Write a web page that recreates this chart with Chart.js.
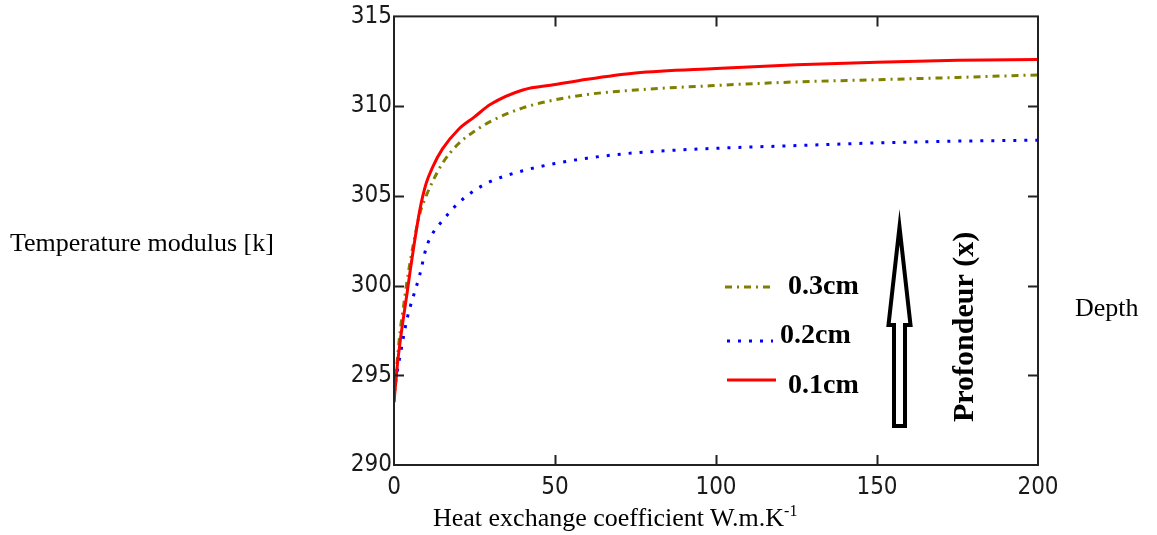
<!DOCTYPE html>
<html>
<head>
<meta charset="utf-8">
<script src="https://cdn.jsdelivr.net/npm/chart.js@4"></script>
<style>
  body { margin: 0; background: #fff; }
  #wrap { position: relative; width: 1157px; height: 535px; }
  .lbl { position: absolute; font: 26px/26px 'Liberation Serif', 'Times New Roman', serif; color: #000; white-space: nowrap; }
  .lbl sup { font-size: 16px; vertical-align: 10px; line-height: 0; }
</style>
</head>
<body>
<div id="wrap">
  <canvas id="chart"></canvas>
  <div class="lbl" style="left:10px; top:230px;">Temperature modulus [k]</div>
  <div class="lbl" style="left:433px; top:505px;">Heat exchange coefficient W.m.K<sup>-1</sup></div>
  <div class="lbl" style="left:1075px; top:295px;">Depth</div>
</div>
<script>
// heat exchange coefficient (x axis)
const hValues = [0, 1, 2, 3, 4, 5, 6, 8, 10, 12, 15, 20, 25, 30, 40, 50, 60, 75, 100, 125, 150, 175, 200];

// temperature modulus for each depth
const temp01 = [293.5, 295.5, 297.0, 298.3, 299.5, 300.8, 302.0, 304.2, 305.7, 306.6, 307.6, 308.7, 309.4, 310.1, 310.9, 311.2, 311.5, 311.85, 312.1, 312.3, 312.45, 312.55, 312.6];
const temp02 = [294.0, 295.2, 296.2, 297.2, 298.1, 298.8, 299.4, 300.6, 302.1, 302.9, 303.6, 304.6, 305.3, 305.8, 306.4, 306.8, 307.1, 307.4, 307.65, 307.8, 307.95, 308.05, 308.1];
const temp03 = [293.5, 295.8, 297.6, 298.9, 300.2, 301.3, 302.3, 304.0, 305.0, 305.8, 306.8, 307.9, 308.6, 309.15, 309.9, 310.35, 310.65, 310.9, 311.15, 311.35, 311.47, 311.6, 311.74];

const legendLabels = ['0.3cm', '0.2cm', '0.1cm'];
const xTicks = [0, 50, 100, 150, 200];
const yTicks = [290, 295, 300, 305, 310, 315];

const toPoints = (arr) => hValues.map((h, i) => ({ x: h, y: arr[i] }));

const tickFont = { family: "'DejaVu Sans Condensed', 'DejaVu Sans', sans-serif", size: 24 };

// frame, inward ticks, legend and arrow (Mathcad look)
const framePlugin = {
    id: 'frame',
    afterDraw(chart) {
        const { ctx, chartArea: a, scales } = chart;
        const xs = scales.x, ys = scales.y;
        ctx.save();
        ctx.strokeStyle = '#222';
        ctx.lineWidth = 2;
        ctx.strokeRect(a.left, a.top, a.right - a.left, a.bottom - a.top);

        const tl = 10;
        ctx.beginPath();
        xTicks.slice(1, -1).forEach(v => {
            const px = Math.round(xs.getPixelForValue(v)) + 0.5;
            ctx.moveTo(px, a.bottom); ctx.lineTo(px, a.bottom - tl);
            ctx.moveTo(px, a.top); ctx.lineTo(px, a.top + tl);
        });
        yTicks.slice(1, -1).forEach(v => {
            const py = Math.round(ys.getPixelForValue(v)) + 0.5;
            ctx.moveTo(a.left, py); ctx.lineTo(a.left + tl, py);
            ctx.moveTo(a.right, py); ctx.lineTo(a.right - tl, py);
        });
        ctx.stroke();

        // legend inside the plot
        const ds = chart.data.datasets;
        const rows = [
            { ds: ds[2], y: 287, x0: 725, x1: 775, tx: 788, ty: 294 },
            { ds: ds[1], y: 341, x0: 727, x1: 773, tx: 780, ty: 343 },
            { ds: ds[0], y: 380, x0: 727, x1: 776, tx: 788, ty: 393 }
        ];
        rows.forEach((r, i) => {
            ctx.beginPath();
            ctx.strokeStyle = r.ds.borderColor;
            ctx.lineWidth = 3;
            ctx.setLineDash(r.ds.borderDash || []);
            ctx.moveTo(r.x0, r.y); ctx.lineTo(r.x1, r.y);
            ctx.stroke();
            ctx.setLineDash([]);
            ctx.fillStyle = '#000';
            ctx.font = "bold 28px 'Liberation Serif', serif";
            ctx.textBaseline = 'alphabetic';
            ctx.textAlign = 'left';
            ctx.fillText(legendLabels[i], r.tx, r.ty);
        });

        // depth arrow
        const cx = 899.5, tip = 227, head = 325, bot = 426;
        ctx.beginPath();
        ctx.moveTo(cx, tip);
        ctx.lineTo(cx + 11, head);
        ctx.lineTo(cx + 5.5, head);
        ctx.lineTo(cx + 5.5, bot);
        ctx.lineTo(cx - 5.5, bot);
        ctx.lineTo(cx - 5.5, head);
        ctx.lineTo(cx - 11, head);
        ctx.closePath();
        ctx.fillStyle = '#fff';
        ctx.fill();
        ctx.strokeStyle = '#000';
        ctx.lineWidth = 4;
        ctx.lineJoin = 'miter';
        ctx.stroke();

        ctx.translate(973, 422);
        ctx.rotate(-Math.PI / 2);
        ctx.fillStyle = '#000';
        ctx.font = "bold 30px 'Liberation Serif', serif";
        ctx.fillText('Profondeur (x)', 0, 0);
        ctx.restore();
    }
};

const chart = new Chart(document.getElementById('chart'), {
    type: 'line',
    data: {
        datasets: [{
            label: '0.1cm',
            data: toPoints(temp01),
            borderColor: '#ff0000',
            borderWidth: 3,
            pointRadius: 0,
            cubicInterpolationMode: 'monotone'
        }, {
            label: '0.2cm',
            data: toPoints(temp02),
            borderColor: '#0000ff',
            borderWidth: 3,
            borderDash: [3, 8],
            pointRadius: 0,
            cubicInterpolationMode: 'monotone'
        }, {
            label: '0.3cm',
            data: toPoints(temp03),
            borderColor: '#808000',
            borderWidth: 3,
            borderDash: [7, 5, 2, 5],
            pointRadius: 0,
            cubicInterpolationMode: 'monotone'
        }]
    },
    options: {
        responsive: true,
        maintainAspectRatio: false,
        animation: false,
        layout: { padding: { top: 12, right: 119, left: 0, bottom: 0 } },
        plugins: { legend: { display: false }, tooltip: { enabled: false } },
        scales: {
            x: {
                type: 'linear',
                min: 0,
                max: 200,
                grid: { display: false, drawTicks: false },
                border: { display: false },
                afterFit: (s) => { s.height = 70; },
                afterBuildTicks: (s) => { s.ticks = xTicks.map(v => ({ value: v })); },
                ticks: { font: tickFont, color: '#1a1a1a', padding: 8, maxRotation: 0 }
            },
            y: {
                min: 290,
                max: 315,
                grid: { display: false, drawTicks: false },
                border: { display: false },
                afterFit: (s) => { s.width = 394; },
                afterBuildTicks: (s) => { s.ticks = yTicks.map(v => ({ value: v })); },
                ticks: { font: tickFont, color: '#1a1a1a', padding: 2 }
            }
        }
    },
    plugins: [framePlugin]
});
</script>
</body>
</html>
